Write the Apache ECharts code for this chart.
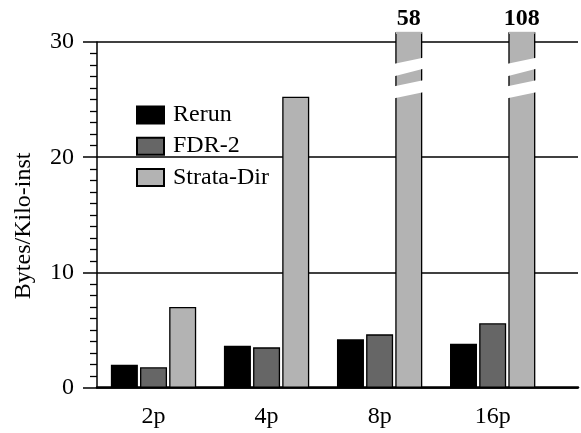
<!DOCTYPE html>
<html>
<head>
<meta charset="utf-8">
<script src="https://cdn.jsdelivr.net/npm/echarts@6/dist/echarts.min.js"></script>
<style>
html,body{margin:0;padding:0;background:#fff;}
#c{width:581px;height:433px;}
</style>
</head>
<body>
<div id="c"></div>
<script>
// ---- data ----
const categories = ['2p', '4p', '8p', '16p'];
const seriesNames = ['Rerun', 'FDR-2', 'Strata-Dir'];
const rerun = [2.0, 3.65, 4.2, 3.82];
const fdr2 = [1.77, 3.5, 4.63, 5.59];
const strataDir = [7.0, 25.25, 58, 108];
const yMin = 0, yMax = 30, yInterval = 10;

// ---- layout / style ----
const FONT = 'Liberation Serif';
const FS = 24;
const plotLeft = 97, plotTop = 42, plotBottom = 45.3;
const H = 433;
const ppu = (H - plotBottom - plotTop) / (yMax - yMin);
const barTopPx = 33;                       // top of the broken (clipped) bars
const yMaxBars = yMax + (plotTop - barTopPx) / ppu;
const barW = 27, barGapPct = 8;
// break bands (value positions on the broken bar: [leftTop, leftBottom, rightTop, rightBottom])
const breakBands = [[28.09, 27.01, 28.66, 27.70], [26.14, 25.10, 26.70, 25.66]];
const colors = ['#000000', '#666666', '#b3b3b3'];

const chart = echarts.init(document.getElementById('c'), null, {renderer: 'canvas'});

const barBase = (name, data, color) => ({
  name: name, type: 'bar', xAxisIndex: 0, yAxisIndex: 0,
  data: data, barWidth: barW, barGap: barGapPct + '%',
  itemStyle: {color: color, borderColor: '#000', borderWidth: 1.3},
  emphasis: {disabled: true}
});

const strataSeries = barBase(seriesNames[2], strataDir, colors[2]);
strataSeries.label = {
  show: true, position: 'top', distance: 2,
  formatter: p => (p.value > yMax ? String(p.value) : ''),
  fontFamily: FONT, fontSize: FS, fontWeight: 'bold', color: '#000'
};

const breakData = strataDir.map((v, i) => (v > yMax ? [i, v] : null)).filter(d => d);

const option = {
  animation: false,
  backgroundColor: '#fff',
  grid: [
    {left: plotLeft, right: 31.8, top: barTopPx, bottom: plotBottom},
    {left: plotLeft, right: 3, top: plotTop, bottom: plotBottom}
  ],
  legend: {
    data: seriesNames, orient: 'vertical', left: 131, top: 98,
    itemWidth: 27, itemHeight: 17, itemGap: 7.2, icon: 'rect',
    textStyle: {fontFamily: FONT, fontSize: FS, color: '#000', padding: [0, 0, 0, 4]},
    selectedMode: false
  },
  xAxis: [
    {gridIndex: 0, type: 'category', data: categories,
     axisLine: {show: false}, axisTick: {show: false},
     axisLabel: {fontFamily: FONT, fontSize: FS, color: '#000', margin: 17}},
    {gridIndex: 1, type: 'value', min: 0, max: 1,
     axisLine: {show: true, onZero: false, lineStyle: {color: '#000', width: 2.5}},
     axisTick: {show: false}, axisLabel: {show: false}, splitLine: {show: false}}
  ],
  yAxis: [
    {gridIndex: 0, type: 'value', min: yMin, max: yMaxBars, show: false, splitLine: {show: false}},
    {gridIndex: 1, type: 'value', min: yMin, max: yMax, interval: yInterval,
     axisLine: {show: true, lineStyle: {color: '#000', width: 1.5}},
     axisTick: {show: true, inside: false, length: 14, lineStyle: {color: '#000', width: 1.5}},
     minorTick: {show: true, splitNumber: 10, length: 7, lineStyle: {color: '#000', width: 1.3}},
     splitLine: {show: true, lineStyle: {color: '#000', width: 1.5}},
     axisLabel: {fontFamily: FONT, fontSize: FS, color: '#000', margin: 23},
     name: 'Bytes/Kilo-inst', nameLocation: 'middle', nameGap: 61,
     nameTextStyle: {fontFamily: FONT, fontSize: FS, color: '#000', padding: [0, 22, 0, 0]}}
  ],
  series: [
    barBase(seriesNames[0], rerun, colors[0]),
    barBase(seriesNames[1], fdr2, colors[1]),
    strataSeries,
    {
      type: 'custom', xAxisIndex: 0, yAxisIndex: 0, z: 5, silent: true,
      data: breakData,
      renderItem: function (params, api) {
        const i = api.value(0);
        const cx = api.coord([i, 0])[0] + barW + barW * barGapPct / 100;
        const l = cx - barW / 2, r = cx + barW / 2;
        const children = breakBands.map(b => ({
          type: 'polygon',
          shape: {points: [
            [l - 2, api.coord([i, b[0]])[1]], [r + 2, api.coord([i, b[2]])[1]],
            [r + 2, api.coord([i, b[3]])[1]], [l - 2, api.coord([i, b[1]])[1]]
          ]},
          style: {fill: '#fff'}
        }));
        const topY = api.coord([i, yMaxBars])[1];
        children.push({type: 'rect', shape: {x: l + 0.7, y: topY - 1.2, width: barW - 1.4, height: 2.2},
                       style: {fill: colors[2]}});
        return {type: 'group', children: children};
      }
    }
  ]
};
chart.setOption(option);
</script>
</body>
</html>
